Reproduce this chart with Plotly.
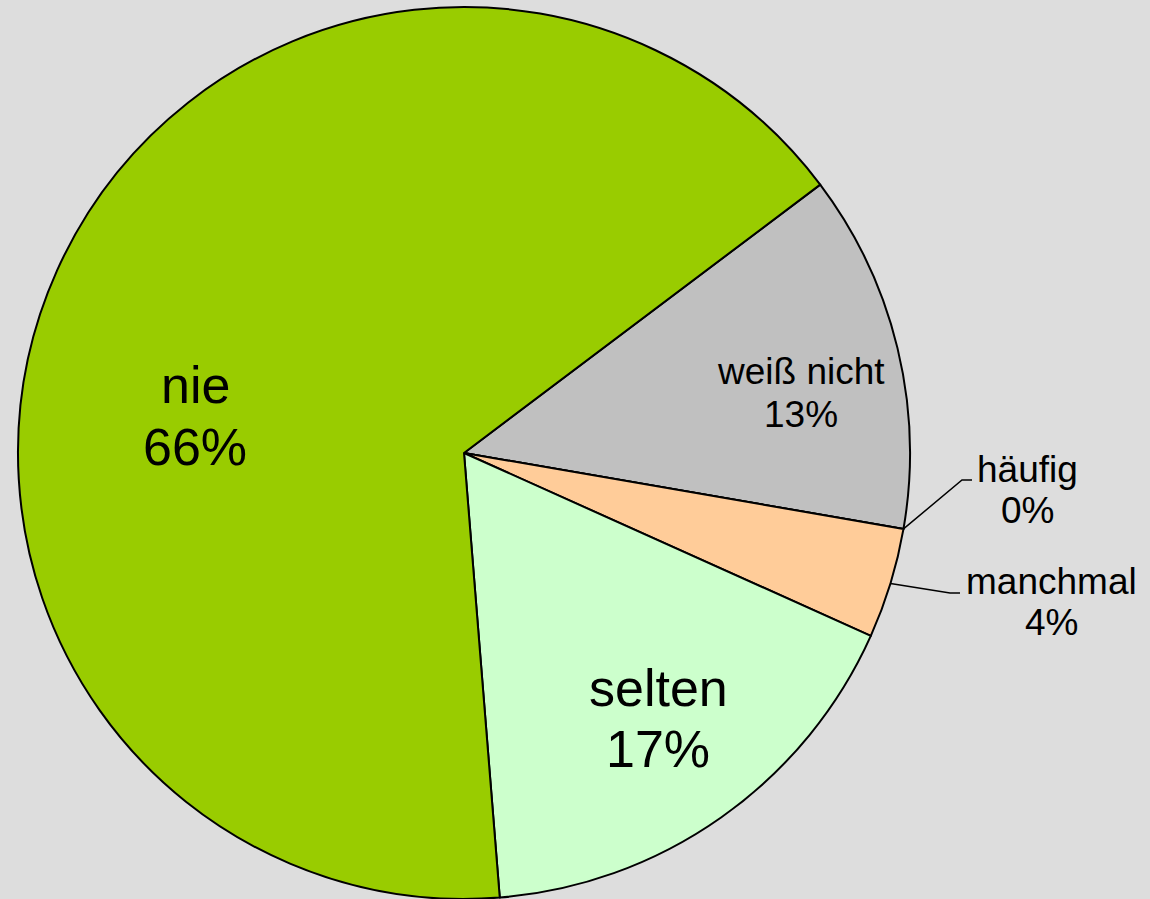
import math
import plotly.graph_objects as go

# ---- data ----
labels = ["weiß nicht", "häufig", "manchmal", "selten", "nie"]
values = [13, 0, 4, 17, 66]
colors = ["#C0C0C0", "#FF9900", "#FFCC99", "#CCFFCC", "#99CC00"]

W, H = 1150, 899
dom_x = [18 / W, 910 / W]
dom_y = [0.0, 892 / H]
rotation = 53

fig = go.Figure(go.Pie(
    labels=labels, values=values, sort=False, direction="clockwise",
    rotation=rotation, textinfo="none", hoverinfo="label+percent",
    marker=dict(colors=colors, line=dict(color="#000000", width=2)),
    domain=dict(x=dom_x, y=dom_y), showlegend=False,
))

# pie geometry (pixels, origin top-left)
cx = (dom_x[0] + dom_x[1]) / 2 * W
cy = (1 - (dom_y[0] + dom_y[1]) / 2) * H
r = min((dom_x[1] - dom_x[0]) * W, (dom_y[1] - dom_y[0]) * H) / 2
total = sum(values)

def mid_angle(i):
    start = rotation + 360 * sum(values[:i]) / total
    return start + 180 * values[i] / total

def edge(i):
    a = math.radians(mid_angle(i))
    return cx + r * math.sin(a), cy - r * math.cos(a)

def px(x):
    return x / W

def py(y):
    return 1 - y / H

pcts = [round(100 * v / total) for v in values]

# label placement: (x center, y of name line, y of percent line, font size)
label_pos = {
    "weiß nicht": (801, 372, 415, 37),
    "häufig": (1027, 470, 510, 37),
    "manchmal": (1051, 581, 622, 37),
    "selten": (658, 688, 749, 52),
    "nie": (195, 385, 447, 52),
}
FONT = "Liberation Sans, Arial, sans-serif"
annotations = []
for lab, pct in zip(labels, pcts):
    x, y1, y2, fs = label_pos[lab]
    for txt, yy in ((lab, y1), (f"{pct}%", y2)):
        annotations.append(dict(
            x=px(x), y=py(yy), xref="paper", yref="paper", showarrow=False,
            text=txt, xanchor="center", yanchor="middle",
            font=dict(family=FONT, size=fs, color="#000000"),
        ))

# leader lines for outside labels: (elbow, end) in pixels
leaders = {
    "häufig": ((962, 480), (972, 480)),
    "manchmal": ((950, 593), (960, 593)),
}
shapes = []
for lab, (elbow, end) in leaders.items():
    i = labels.index(lab)
    sx, sy = edge(i)
    path = f"M {px(sx)},{py(sy)} L {px(elbow[0])},{py(elbow[1])} L {px(end[0])},{py(end[1])}"
    shapes.append(dict(type="path", xref="paper", yref="paper", path=path,
                       line=dict(color="#000000", width=1.5)))

fig.update_layout(
    width=W, height=H, margin=dict(l=0, r=0, t=0, b=0),
    paper_bgcolor="#DDDDDD", plot_bgcolor="#DDDDDD",
    annotations=annotations, shapes=shapes,
)

fig.write_html(
    "out.html",
    config={"displayModeBar": False},
    post_script="document.body.style.margin='0';document.body.style.background='#DDDDDD';",
)
